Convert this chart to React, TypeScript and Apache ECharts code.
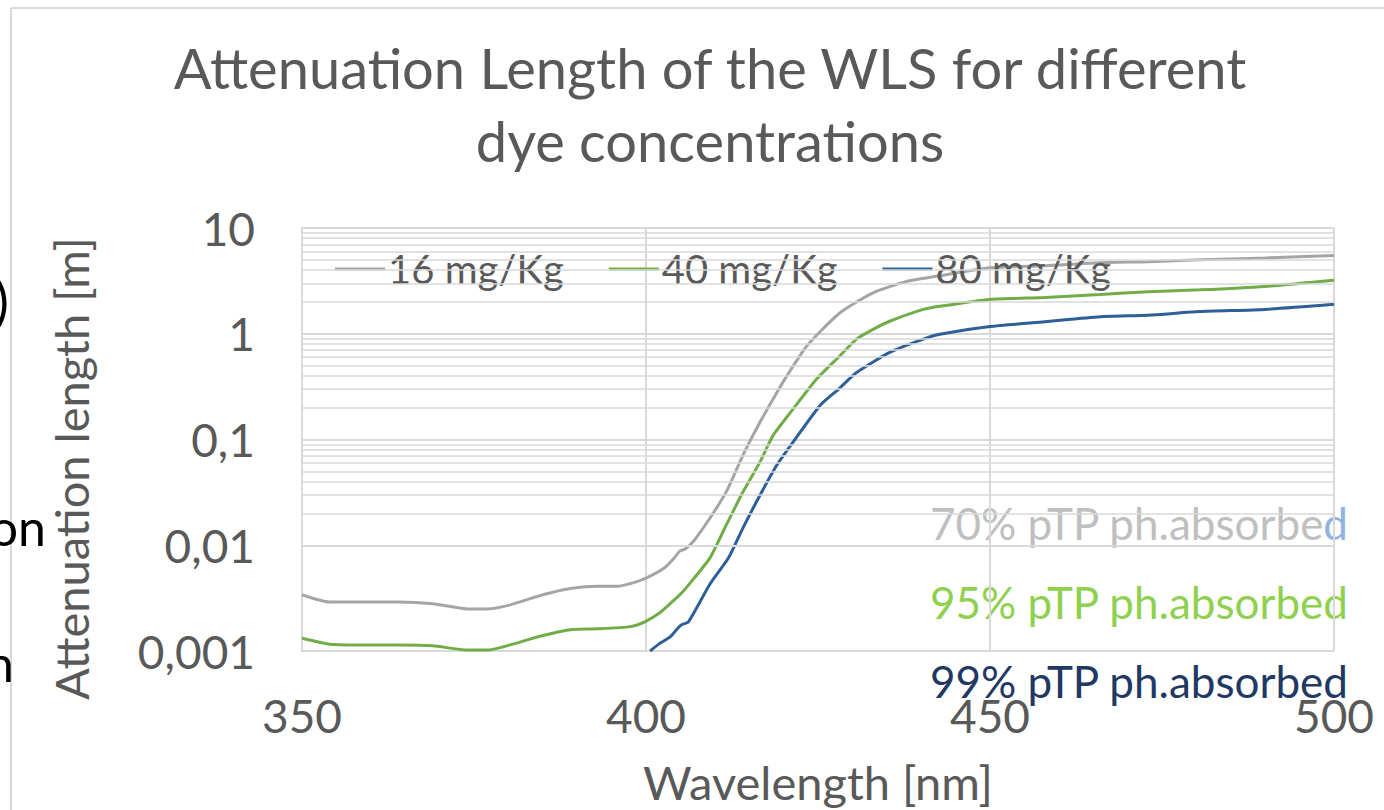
import React, { useEffect, useRef } from "react";
import * as echarts from "echarts";

const chartTitle = "Attenuation Length of the WLS for different\ndye concentrations";
const seriesNames = ["16 mg/Kg", "40 mg/Kg", "80 mg/Kg"];
const yTickLabels = ["0,001", "0,01", "0,1", "1", "10"];
const minorGridValues = [
  0.002, 0.003, 0.004, 0.005, 0.006, 0.007, 0.008, 0.009,
  0.02, 0.03, 0.04, 0.05, 0.06, 0.07, 0.08, 0.09,
  0.2, 0.3, 0.4, 0.5, 0.6, 0.7, 0.8, 0.9,
  2, 3, 4, 5, 6, 7, 8, 9,
];

const wl16 = [350, 354, 358, 364, 369, 374, 377, 380, 385, 389, 393, 396, 399, 400.6, 402.8, 404.2, 404.9, 405.7, 406.9, 409.3, 411.7, 414.1, 416.6, 418.5, 420.2, 423.4, 428.2, 433, 437.9, 442.2, 450, 458, 466, 473, 480.5, 490, 500];
const att16 = [0.0034, 0.0029, 0.0029, 0.0029, 0.0028, 0.0025, 0.0025, 0.0027, 0.0034, 0.0039, 0.0041, 0.0041, 0.0046, 0.0051, 0.0062, 0.0077, 0.0088, 0.0092, 0.0109, 0.0181, 0.0323, 0.0713, 0.147, 0.243, 0.374, 0.77, 1.58, 2.44, 3.13, 3.49, 4.2, 4.4, 4.7, 4.8, 5.0, 5.2, 5.5];

const wl40 = [350, 354, 358, 364, 369, 374, 377, 380, 385, 389, 393, 397.7, 399.9, 402, 403.5, 405, 405.9, 409.3, 411.7, 414.1, 416.6, 418.5, 421.4, 424.8, 428.2, 430.6, 433, 435.5, 440.3, 442.7, 450, 458, 466, 473, 480.5, 490, 500];
const att40 = [0.00132, 0.00116, 0.00114, 0.00114, 0.00112, 0.00102, 0.00102, 0.00113, 0.0014, 0.00159, 0.00162, 0.0017, 0.0019, 0.0023, 0.0028, 0.00345, 0.004, 0.0076, 0.0157, 0.032, 0.0618, 0.11, 0.195, 0.374, 0.62, 0.89, 1.1, 1.32, 1.7, 1.82, 2.11, 2.2, 2.35, 2.5, 2.6, 2.8, 3.2];

const wl80 = [400.6, 402, 403.5, 405, 406.2, 409.3, 412, 414.1, 416.6, 419, 421.4, 425.3, 428, 430.6, 435.5, 440.3, 442.7, 450, 458, 466, 473, 480.5, 490, 500];
const att80 = [0.001, 0.00118, 0.00136, 0.00174, 0.0019, 0.0043, 0.0076, 0.0146, 0.03, 0.057, 0.095, 0.21, 0.3, 0.43, 0.67, 0.89, 0.99, 1.17, 1.3, 1.45, 1.5, 1.62, 1.7, 1.9];

const seriesColors = ["#a5a5a5", "#70ad47", "#2e5f98"];
const FONT = "Lato, 'Open Sans', sans-serif";
const TXT = "#595959";
const GRID = "#d9d9d9";

function zip(xs: number[], ys: number[]) {
  return xs.map((x, i) => [x, ys[i]]);
}

export default function App() {
  const ref = useRef<HTMLDivElement>(null);
  useEffect(() => {
    if (!ref.current) return;
    const chart = echarts.init(ref.current, undefined, { renderer: "svg" });
    const lineSeries = [
      zip(wl16, att16),
      zip(wl40, att40),
      zip(wl80, att80),
    ].map((data, i) => ({
      name: seriesNames[i],
      type: "line" as const,
      data,
      showSymbol: false,
      symbol: "none",
      smooth: 0.2,
      z: 3,
      lineStyle: { color: seriesColors[i], width: 3 },
      itemStyle: { color: seriesColors[i] },
    }));
    chart.setOption({
      animation: false,
      backgroundColor: "#ffffff",
      textStyle: { fontFamily: FONT },
      title: {
        text: chartTitle,
        left: 705,
        textAlign: "center",
        top: 26,
        textStyle: {
          fontFamily: FONT,
          fontSize: 56,
          fontWeight: "normal",
          color: TXT,
          lineHeight: 73,
        },
      },
      legend: {
        data: seriesNames,
        left: 335,
        top: 249,
        itemWidth: 50,
        itemHeight: 3,
        itemGap: 45,
        icon: "rect",
        padding: 0,
        textStyle: { fontFamily: FONT, fontSize: 40, color: TXT, padding: [0, 0, 0, -2] },
      },
      grid: { left: 302, right: 50, top: 228, bottom: 156, containLabel: false },
      xAxis: {
        type: "value",
        min: 350,
        max: 500,
        interval: 50,
        name: "Wavelength [nm]",
        nameLocation: "middle",
        nameGap: 107,
        nameTextStyle: { fontFamily: FONT, fontSize: 47, color: TXT },
        axisLine: { show: true, lineStyle: { color: GRID, width: 2 } },
        axisTick: { show: false },
        splitLine: { show: true, lineStyle: { color: GRID, width: 2 } },
        axisLabel: { fontFamily: FONT, fontSize: 46, color: TXT, margin: 41 },
      },
      yAxis: {
        type: "log",
        logBase: 10,
        min: 0.001,
        max: 10,
        splitNumber: 4,
        name: "Attenuation length [m]",
        nameLocation: "middle",
        nameGap: 208,
        nameRotate: 90,
        nameTextStyle: { fontFamily: FONT, fontSize: 47, color: TXT, padding: [0, 58, 0, 0] },
        axisLine: { show: true, lineStyle: { color: GRID, width: 2 } },
        axisTick: { show: false },
        splitLine: { show: true, lineStyle: { color: GRID, width: 2 } },
        axisLabel: {
          fontFamily: FONT,
          fontSize: 46,
          color: TXT,
          margin: 47,
          formatter: (v: number) => {
            const idx = Math.round(Math.log10(v)) + 3;
            return yTickLabels[idx] ?? "";
          },
        },
      },
      series: [
        {
          name: "minor-grid",
          type: "line",
          data: [],
          silent: true,
          z: 1,
          markLine: {
            silent: true,
            symbol: "none",
            label: { show: false },
            lineStyle: { color: GRID, width: 1.5, type: "solid" },
            data: minorGridValues.map((v) => ({ yAxis: v })),
          },
        },
        ...lineSeries,
      ],
      graphic: [
        { type: "line", shape: { x1: 11, y1: 8, x2: 11, y2: 810 }, style: { stroke: "#d9d9d9", lineWidth: 2 } },
        { type: "line", shape: { x1: 11, y1: 8, x2: 1384, y2: 8 }, style: { stroke: "#d9d9d9", lineWidth: 2 } },
        { type: "text", x: 9, y: 300, style: { text: ")", fontFamily: FONT, fontSize: 54, fill: "#000", textAlign: "right", textVerticalAlign: "middle" } },
        { type: "text", x: 46, y: 527, style: { text: "on", fontFamily: FONT, fontSize: 50, fill: "#000", textAlign: "right", textVerticalAlign: "middle" } },
        { type: "text", x: 14, y: 663, style: { text: "n", fontFamily: FONT, fontSize: 50, fill: "#000", textAlign: "right", textVerticalAlign: "middle" } },
        {
          type: "text", x: 1348, y: 523,
          style: {
            text: "{a|70% pTP ph.absorbe}{b|d}",
            textAlign: "right", textVerticalAlign: "middle",
            rich: {
              a: { fontFamily: FONT, fontSize: 44, fill: "#bfbfbf", color: "#bfbfbf" },
              b: { fontFamily: FONT, fontSize: 44, fill: "#8eb4e3", color: "#8eb4e3" },
            },
          },
        },
        { type: "text", x: 1348, y: 602, style: { text: "95% pTP ph.absorbed", fontFamily: FONT, fontSize: 44, fill: "#8fd14f", textAlign: "right", textVerticalAlign: "middle" } },
        { type: "text", x: 1348, y: 681, style: { text: "99% pTP ph.absorbed", fontFamily: FONT, fontSize: 44, fill: "#1f3864", textAlign: "right", textVerticalAlign: "middle" } },
      ],
    });
    return () => chart.dispose();
  }, []);
  return <div ref={ref} style={{ position: "fixed", left: 0, top: 0, width: 1384, height: 810 }} />;
}
